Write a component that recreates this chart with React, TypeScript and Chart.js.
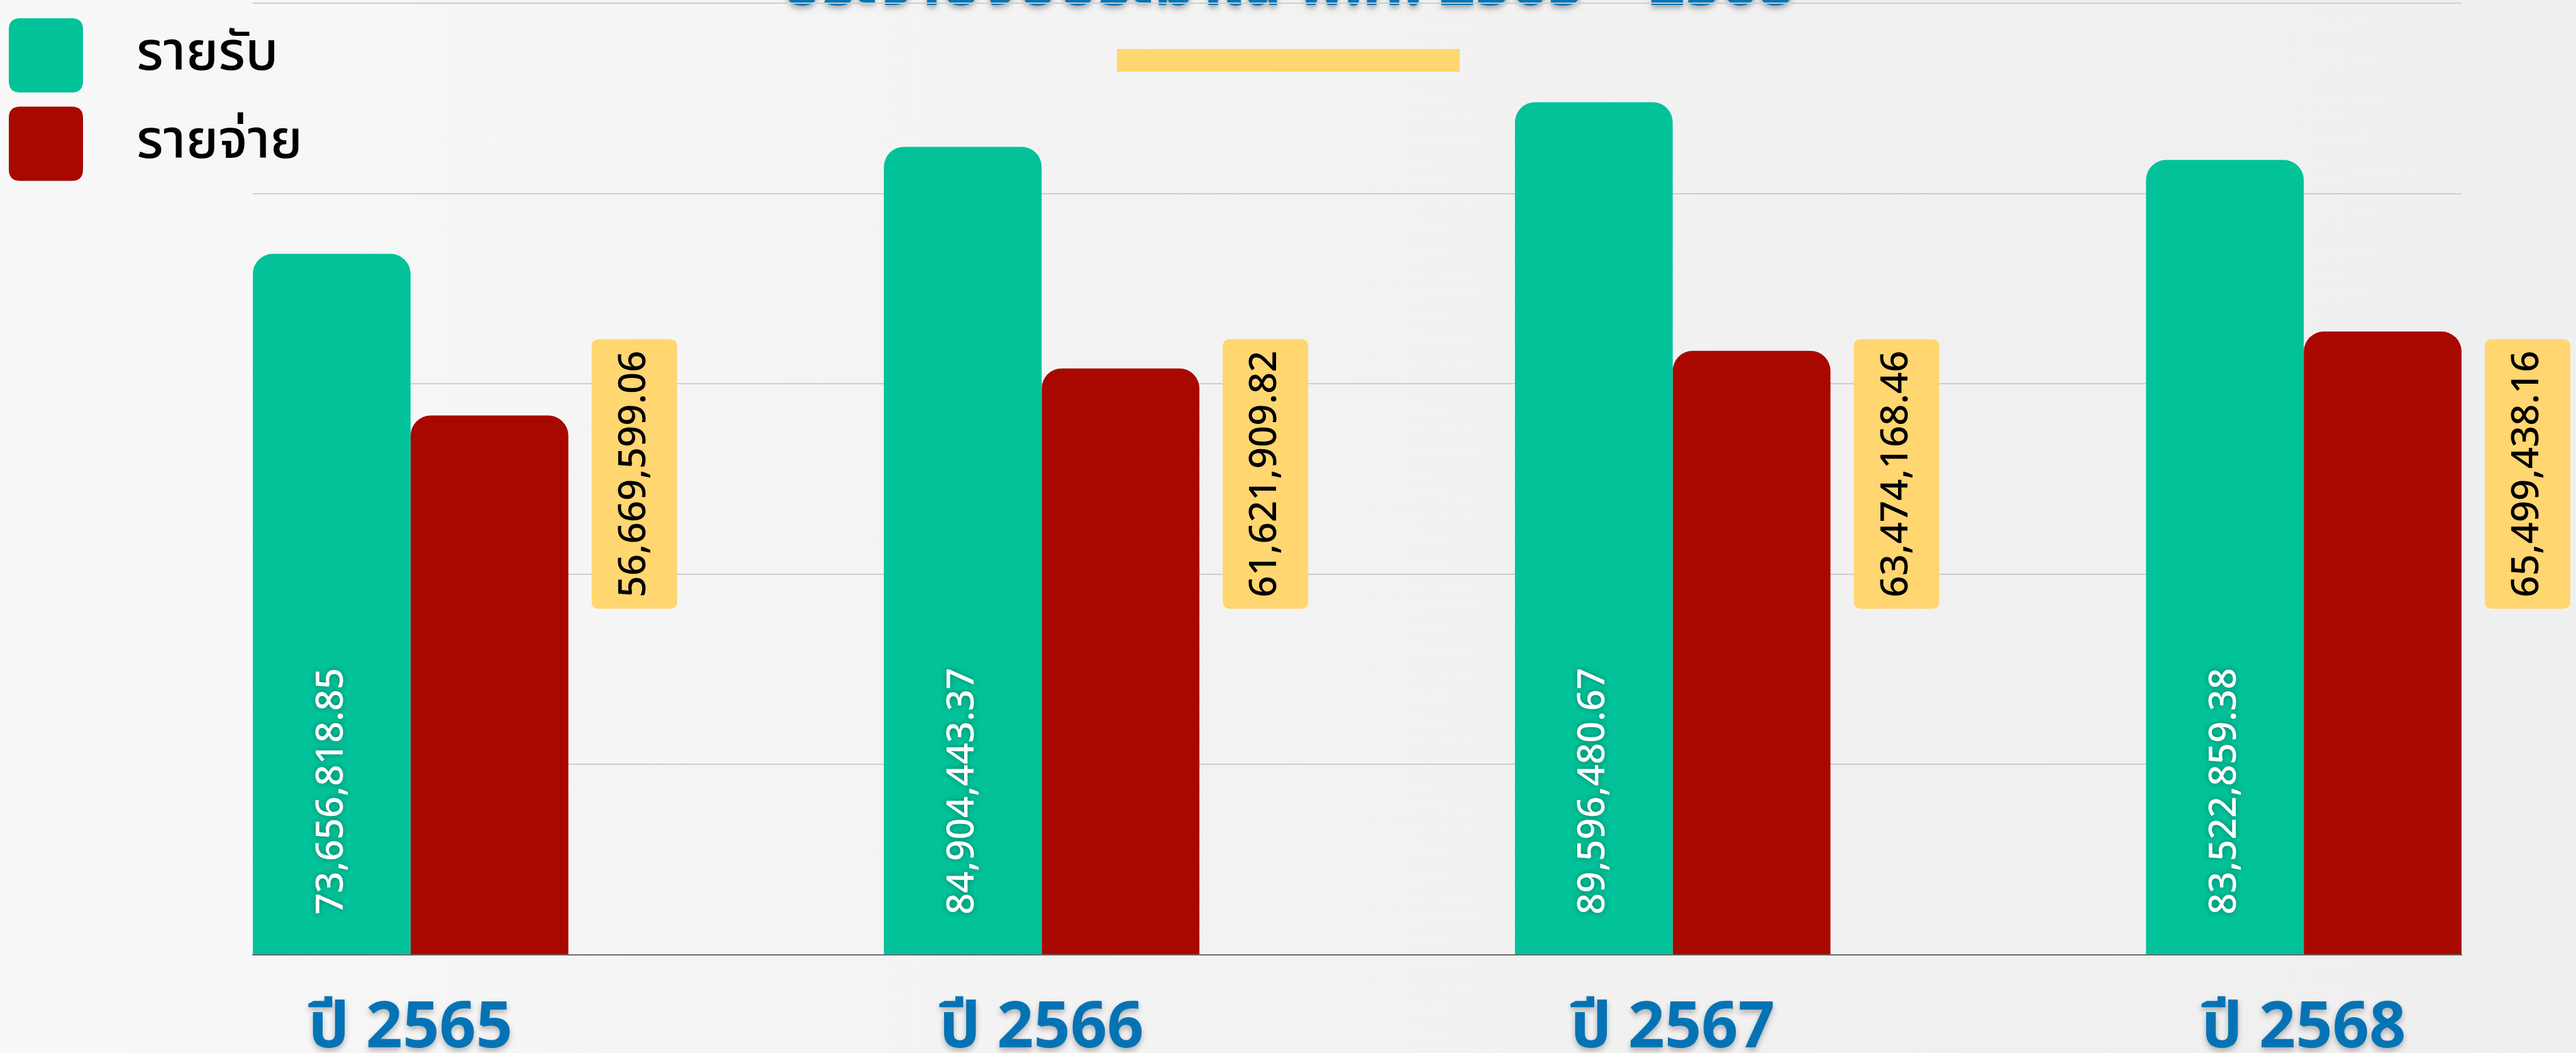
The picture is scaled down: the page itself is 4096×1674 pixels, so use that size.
import { useEffect, useRef } from "react";
import { Chart, registerables } from "chart.js";

Chart.register(...registerables);

// ---- data ----
const YEARS = ["ปี 2565", "ปี 2566", "ปี 2567", "ปี 2568"];
const INCOME = [73656818.85, 84904443.37, 89596480.67, 83522859.38];
const EXPENSE = [56669599.06, 61621909.82, 63474168.46, 65499438.16];
const SERIES_NAMES = ["รายรับ", "รายจ่าย"];
const Y_MIN = 0;
const Y_MAX = 100000000;
const Y_STEP = 20000000;
const TITLE = "ประจำปีงบประมาณ พ.ศ. 2565 – 2568";

// ---- style ----
const W = 4096;
const H = 1674;
const GREEN = "#02C29A";
const RED = "#A80800";
const YELLOW = "#FFD66F";
const BLUE = "#0473B5";
const FONT = "'Noto Sans', 'Noto Sans Thai', sans-serif";

const fmt = (v: number) =>
  v.toLocaleString("en-US", { minimumFractionDigits: 2, maximumFractionDigits: 2 });

function roundRect(ctx: CanvasRenderingContext2D, x: number, y: number, w: number, h: number, r: number) {
  ctx.beginPath();
  ctx.moveTo(x + r, y);
  ctx.lineTo(x + w - r, y);
  ctx.quadraticCurveTo(x + w, y, x + w, y + r);
  ctx.lineTo(x + w, y + h - r);
  ctx.quadraticCurveTo(x + w, y + h, x + w - r, y + h);
  ctx.lineTo(x + r, y + h);
  ctx.quadraticCurveTo(x, y + h, x, y + h - r);
  ctx.lineTo(x, y + r);
  ctx.quadraticCurveTo(x, y, x + r, y);
  ctx.closePath();
}

const decorPlugin = {
  id: "decor",
  afterUpdate(chart: any) {
    const s = chart.scales.x;
    if (s && !s.__shadowWrapped) {
      const orig = s.drawLabels.bind(s);
      s.drawLabels = (area: any) => {
        const ctx = chart.ctx;
        ctx.save();
        ctx.shadowColor = "rgba(0,0,0,0.28)";
        ctx.shadowBlur = 10;
        ctx.shadowOffsetY = 5;
        orig(area);
        ctx.restore();
      };
      s.__shadowWrapped = true;
    }
  },
  beforeDraw(chart: any) {
    const { ctx, width, height } = chart;
    ctx.save();
    const g = ctx.createLinearGradient(0, 0, width, 0);
    g.addColorStop(0, "#f8f8f8");
    g.addColorStop(0.5, "#f2f2f2");
    g.addColorStop(1, "#efefef");
    ctx.fillStyle = g;
    ctx.fillRect(0, 0, width, height);

    // title (mostly above the visible area) + underline
    ctx.font = `bold 101px ${FONT}`;
    ctx.textAlign = "center";
    ctx.textBaseline = "alphabetic";
    ctx.shadowColor = "rgba(0,0,0,0.3)";
    ctx.shadowBlur = 8;
    ctx.shadowOffsetY = 5;
    ctx.fillStyle = BLUE;
    ctx.fillText(TITLE, width / 2, 8);
    ctx.shadowColor = "transparent";
    ctx.fillStyle = YELLOW;
    ctx.fillRect(width / 2 - 272, 78, 545, 36);
    ctx.restore();
  },
  afterDatasetsDraw(chart: any) {
    const { ctx, chartArea } = chart;
    ctx.save();
    ctx.font = `500 60px ${FONT}`;
    // income labels inside green bars
    const m0 = chart.getDatasetMeta(0);
    m0.data.forEach((el: any, i: number) => {
      const txt = fmt(chart.data.datasets[0].data[i].y);
      ctx.save();
      ctx.translate(el.x, chartArea.bottom - 64);
      ctx.rotate(-Math.PI / 2);
      ctx.textAlign = "left";
      ctx.textBaseline = "middle";
      ctx.shadowColor = "rgba(0,0,0,0.35)";
      ctx.shadowBlur = 10;
      ctx.fillStyle = "#ffffff";
      ctx.fillText(txt, 0, 0);
      ctx.restore();
    });
    // expense labels in yellow boxes
    const m1 = chart.getDatasetMeta(1);
    const cy = (chartArea.top + chartArea.bottom) / 2 - 8;
    m1.data.forEach((el: any, i: number) => {
      const txt = fmt(chart.data.datasets[1].data[i].y);
      const tw = ctx.measureText(txt).width;
      const bw = 136;
      const bh = tw + 36;
      const left = el.x + el.width / 2 + 37;
      ctx.fillStyle = YELLOW;
      roundRect(ctx, left, cy - bh / 2, bw, bh, 12);
      ctx.fill();
      ctx.save();
      ctx.translate(left + bw / 2, cy);
      ctx.rotate(-Math.PI / 2);
      ctx.textAlign = "center";
      ctx.textBaseline = "middle";
      ctx.fillStyle = "#000000";
      ctx.fillText(txt, 0, 0);
      ctx.restore();
    });
    ctx.restore();
  },
  afterDraw(chart: any) {
    const { ctx } = chart;
    ctx.save();
    chart.data.datasets.forEach((ds: any, i: number) => {
      ctx.fillStyle = ds.backgroundColor;
      roundRect(ctx, 14, 29 + i * 140.5, 118, 118, 18);
      ctx.fill();
      ctx.fillStyle = "#000000";
      ctx.font = `500 86px ${FONT}`;
      ctx.textAlign = "left";
      ctx.textBaseline = "middle";
      ctx.fillText(ds.label, 217, 86 + i * 140.5);
    });
    ctx.restore();
  },
};

export default function App() {
  const ref = useRef<HTMLCanvasElement | null>(null);

  useEffect(() => {
    if (!ref.current) return;
    const chart = new Chart(ref.current, {
      type: "bar",
      data: {
        datasets: [
          {
            label: SERIES_NAMES[0],
            data: INCOME.map((v, i) => ({ x: i, y: v })),
            backgroundColor: GREEN,
            borderRadius: { topLeft: 32, topRight: 32, bottomLeft: 0, bottomRight: 0 },
            borderSkipped: false,
            categoryPercentage: 0.5,
            barPercentage: 1,
          },
          {
            label: SERIES_NAMES[1],
            data: EXPENSE.map((v, i) => ({ x: i, y: v })),
            backgroundColor: RED,
            borderRadius: { topLeft: 32, topRight: 32, bottomLeft: 0, bottomRight: 0 },
            borderSkipped: false,
            categoryPercentage: 0.5,
            barPercentage: 1,
          },
        ],
      } as any,
      options: {
        animation: false,
        responsive: false,
        devicePixelRatio: 1,
        layout: { padding: { left: 402, right: 182, top: 5, bottom: 0 } },
        plugins: {
          legend: { display: false },
          tooltip: { enabled: false },
          title: { display: false },
        },
        scales: {
          x: {
            type: "linear",
            position: "bottom",
            min: -0.25,
            max: YEARS.length - 0.75,
            offset: false,
            grid: { display: false, drawTicks: false },
            border: { display: true, color: "#6a6a6a", width: 2 },
            afterBuildTicks: (scale: any) => {
              scale.ticks = YEARS.map((_, i) => ({ value: i }));
            },
            afterFit: (scale: any) => {
              scale.height = 156;
            },
            ticks: {
              padding: 57,
              color: BLUE,
              font: { family: FONT, size: 102, weight: "bold" },
              maxRotation: 0,
              autoSkip: false,
              callback: (v: any) => YEARS[Math.round(Number(v))] ?? "",
            },
          },
          y: {
            min: Y_MIN,
            max: Y_MAX,
            border: { display: false },
            grid: {
              drawTicks: false,
              lineWidth: 2,
              color: (c: any) => (c.tick && c.tick.value === 0 ? "rgba(0,0,0,0)" : "#cdcdcd"),
            },
            ticks: { display: false, stepSize: Y_STEP },
            afterFit: (scale: any) => {
              scale.width = 0;
            },
          },
        },
      } as any,
      plugins: [decorPlugin as any],
    });
    return () => chart.destroy();
  }, []);

  return (
    <div style={{ position: "absolute", left: 0, top: 0, width: W, height: H, overflow: "hidden" }}>
      <canvas ref={ref} width={W} height={H} style={{ width: W, height: H, display: "block" }} />
    </div>
  );
}
